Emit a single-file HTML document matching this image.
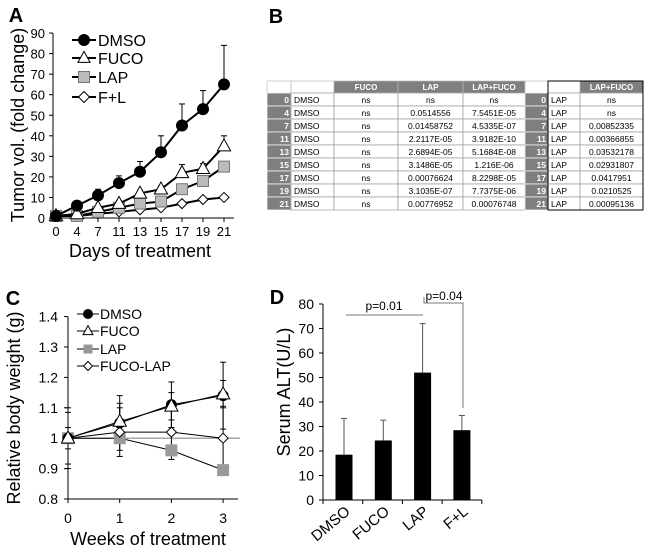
<!DOCTYPE html>
<html><head><meta charset="utf-8"><style>
body{margin:0;background:#fff;width:650px;height:552px;overflow:hidden;font-family:"Liberation Sans",Arial,sans-serif}
svg{position:absolute;left:0;top:0}
text{font-family:"Liberation Sans",Arial,sans-serif}
</style></head><body>
<svg id="s" width="650" height="552" viewBox="0 0 650 552"></svg>
<script>
// Panel A data
const daysA = [0,4,7,11,13,15,17,19,21];
const aDMSO = [1,6,11,17,22.5,32,45,53,65];
const aDMSOerr = [0,1,3,3.5,5,8,10.5,9,19];
const aFUCO = [1,2,5,7,12,14,22,24,35];
const aFUCOerr = [0,0.5,1,1.5,1.5,1.5,4,2.5,5];
const aLAP = [1,1,3,5,7,8,14,18,25];
const aFL = [1,1,2,3,4,5,7,9,10];
const aYTicks = [0,10,20,30,40,50,60,70,80,90];
// Panel B table
const bHeader = ["","","FUCO","LAP","LAP+FUCO","","","LAP+FUCO"];
const bDays = ["0","4","7","11","13","15","17","19","21"];
const bFUCO = ["ns","ns","ns","ns","ns","ns","ns","ns","ns"];
const bLAP = ["ns","0.0514556","0.01458752","2.2117E-05","2.6894E-05","3.1486E-05","0.00076624","3.1035E-07","0.00776952"];
const bLF = ["ns","7.5451E-05","4.5335E-07","3.9182E-10","5.1684E-08","1.216E-06","8.2298E-05","7.7375E-06","0.00076748"];
const bLF2 = ["ns","ns","0.00852335","0.00366855","0.03532178","0.02931807","0.0417951","0.0210525","0.00095136"];
// Panel C data
const weeks = [0,1,2,3];
const cDMSO = [1,1.05,1.11,1.14];
const cDMSOerr = [0.035,0.09,0.075,0.11];
const cFUCO = [1,1.055,1.105,1.145];
const cFUCOerr = [0.085,0.06,0.045,0.045];
const cLAP = [1,1,0.96,0.895];
const cFL = [1,1.02,1.02,1.0];
const cFLerr = [0.1,0.08,0.09,0.105];
const cYTicks = [0.8,0.9,1,1.1,1.2,1.3,1.4];
// Panel D data
const dCats = ["DMSO","FUCO","LAP","F+L"];
const dVals = [18.5,24.3,52,28.5];
const dErr = [14.8,8.3,20,6];
const dYTicks = [0,10,20,30,40,50,60,70,80];

const S=document.getElementById('s');const NS='http://www.w3.org/2000/svg';
function mk(t,a,p,txt){const e=document.createElementNS(NS,t);for(const k in a)e.setAttribute(k,a[k]);if(txt!==undefined)e.textContent=txt;(p||S).appendChild(e);return e;}
function line(x1,y1,x2,y2,st,w,p){return mk('line',{x1,y1,x2,y2,stroke:st||'#000','stroke-width':w||1},p);}
function txt(x,y,s,sz,anchor,p,extra){const a={x,y,'font-size':sz,'text-anchor':anchor||'middle',fill:'#000'};Object.assign(a,extra||{});return mk('text',a,p,s);}
function marker(g,type,x,y,r){
  if(type==='circle')return mk('circle',{cx:x,cy:y,r:r,fill:'#000'},g);
  if(type==='tri')return mk('polygon',{points:`${x},${y-r*1.2} ${x-r*1.1},${y+r*0.8} ${x+r*1.1},${y+r*0.8}`,fill:'#fff',stroke:'#000','stroke-width':1},g);
  if(type==='sq')return mk('rect',{x:x-r,y:y-r,width:2*r,height:2*r,fill:'#bbb',stroke:'#777','stroke-width':1},g);
  if(type==='sqc')return mk('rect',{x:x-r,y:y-r,width:2*r,height:2*r,fill:'#999',stroke:'none'},g);
  if(type==='dia')return mk('polygon',{points:`${x},${y-r} ${x+r},${y} ${x},${y+r} ${x-r},${y}`,fill:'#fff',stroke:'#000','stroke-width':1},g);
}
// Labels
txt(16,22,'A',20,'middle',null,{'font-weight':'bold'});
txt(276,23,'B',20,'middle',null,{'font-weight':'bold'});
txt(13,305,'C',20,'middle',null,{'font-weight':'bold'});
txt(277,304,'D',20,'middle',null,{'font-weight':'bold'});

// ===== Panel A =====
(function(){
const g=mk('g',{});
const x0=56,dx=21,y0=218,py=20.55;
const X=i=>x0+i*dx, Y=v=>y0-v*py/10;
line(53,Y(90),53,y0,'#000',1,g);line(53,y0,234,y0,'#000',1,g);
aYTicks.forEach(t=>{line(49,Y(t),53,Y(t),'#000',1,g);txt(45,Y(t)+5,String(t),13,'end',g);});
daysA.forEach((d,i)=>{line(X(i),y0,X(i),y0+4,'#000',1,g);txt(X(i),236,String(d),13,'middle',g);});
txt(140,257,'Days of treatment',18,'middle',g);
txt(0,0,'Tumor vol. (fold change)',18,'middle',g,{transform:'translate(24,125) rotate(-90)'});
function err(vals,e){vals.forEach((v,i)=>{if(!e[i])return;line(X(i),Y(v),X(i),Y(v+e[i]),'#000',1,g);line(X(i)-3,Y(v+e[i]),X(i)+3,Y(v+e[i]),'#000',1,g);});}
err(aDMSO,aDMSOerr);err(aFUCO,aFUCOerr);
function ser(vals,type,name,r){const sg=mk('g',{},g);
 mk('polyline',{points:vals.map((v,i)=>X(i)+','+Y(v)).join(' '),fill:'none',stroke:'#000','stroke-width':2},sg);
 vals.forEach((v,i)=>marker(sg,type,X(i),Y(v),r));}
ser(aFL,'dia','series-f-l',5);ser(aLAP,'sq','series-lap',5.5);ser(aFUCO,'tri','series-fuco',6);ser(aDMSO,'circle','series-dmso',6);
const lg=mk('g',{},g);
[['DMSO','circle',40],['FUCO','tri',58],['LAP','sq',77],['F+L','dia',97]].forEach(([n,t,y])=>{line(72,y,96,y,'#000',2,lg);marker(lg,t,84,y,t==='circle'?6:5.5);txt(98,y+6,n,16,'start',lg);});
})();

// ===== Panel B table =====
(function(){
const g=mk('g',{});
const cols=[267,291,334,398,463,525,548,580,643];
const top=81,hh=12,rh=13;
bHeader.forEach((h,c)=>{const gray=h!=='';mk('rect',{x:cols[c],y:top,width:cols[c+1]-cols[c],height:hh,fill:gray?'#7f7f7f':'#fff',stroke:'#bbb','stroke-width':0.7},g);
 if(h)txt((cols[c]+cols[c+1])/2,top+9,h,8,'middle',g,{fill:'#fff','font-weight':'bold'});});
bDays.forEach((d,r)=>{const y=top+hh+r*rh;
 const cells=[d,'DMSO',bFUCO[r],bLAP[r],bLF[r],d,'LAP',bLF2[r]];
 cells.forEach((s,c)=>{const num=(c===0||c===5);
  mk('rect',{x:cols[c],y:y,width:cols[c+1]-cols[c],height:rh,fill:num?'#7f7f7f':'#fff',stroke:num?'#fff':'#999','stroke-width':0.7},g);
  if(num)txt(cols[c+1]-2,y+10,s,8.5,'end',g,{fill:'#fff','font-weight':'bold'});
  else if(c===1||c===6)txt(cols[c]+3,y+10,s,8.5,'start',g);
  else txt((cols[c]+cols[c+1])/2,y+10,s,8.5,'middle',g);});});
mk('rect',{x:548,y:top,width:95,height:hh+9*rh,fill:'none',stroke:'#000','stroke-width':1},g);
})();

// ===== Panel C =====
(function(){
const g=mk('g',{});
const X=i=>68+i*51.7, Y=v=>499-(v-0.8)*304;
line(68,Y(1.4),68,499,'#000',1,g);line(68,499,238,499,'#000',1,g);
line(68,Y(1),240,Y(1),'#888',1.2,g);
cYTicks.forEach(t=>{line(64,Y(t),68,Y(t),'#000',1,g);txt(58,Y(t)+5,String(t),14,'end',g);});
weeks.forEach((w,i)=>{line(X(i),499,X(i),503,'#000',1,g);txt(X(i),523,String(w),14,'middle',g);});
txt(148,545,'Weeks of treatment',18,'middle',g);
txt(0,0,'Relative body weight (g)',18,'middle',g,{transform:'translate(20,408) rotate(-90)'});
function err(vals,e){vals.forEach((v,i)=>{[1,-1].forEach(sg=>{line(X(i),Y(v),X(i),Y(v+sg*e[i]),'#000',1,g);line(X(i)-3,Y(v+sg*e[i]),X(i)+3,Y(v+sg*e[i]),'#000',1,g);});});}
err(cDMSO,cDMSOerr);err(cFUCO,cFUCOerr);err(cFL,cFLerr);
function ser(vals,type,name,r){const sg=mk('g',{},g);
 mk('polyline',{points:vals.map((v,i)=>X(i)+','+Y(v)).join(' '),fill:'none',stroke:'#000','stroke-width':1},sg);
 vals.forEach((v,i)=>marker(sg,type,X(i),Y(v),r));}
ser(cLAP,'sqc','series-lap',6);ser(cFL,'dia','series-fuco-lap',5);ser(cDMSO,'circle','series-dmso',5.5);ser(cFUCO,'tri','series-fuco',6);
const lg=mk('g',{},g);
[['DMSO','circle',314],['FUCO','tri',331],['LAP','sqc',349],['FUCO-LAP','dia',366]].forEach(([n,t,y])=>{line(77,y,99,y,'#000',1,lg);marker(lg,t,88,y,t==='circle'?5:4.5);txt(100,y+5,n,14,'start',lg);});
})();

// ===== Panel D =====
(function(){
const g=mk('g',{});
const Y=v=>500-v*2.45, X=i=>344+i*39.3;
line(323,Y(80),323,500,'#000',1,g);line(323,500,482,500,'#000',1,g);
dYTicks.forEach(t=>{line(319,Y(t),323,Y(t),'#000',1,g);txt(314,Y(t)+5,String(t),14,'end',g);});
[0,1,2,3,4].forEach(i=>line(323+i*39.7,500,323+i*39.7,504,'#000',1,g));
txt(0,0,'Serum ALT(U/L)',18,'middle',g,{transform:'translate(290,392) rotate(-90)'});
dCats.forEach((c,i)=>{
 mk('rect',{x:X(i)-8.5,y:Y(dVals[i]),width:17,height:500-Y(dVals[i]),fill:'#000',},g);
 line(X(i),Y(dVals[i]),X(i),Y(dVals[i]+dErr[i]),'#555',1,g);line(X(i)-3,Y(dVals[i]+dErr[i]),X(i)+3,Y(dVals[i]+dErr[i]),'#555',1,g);
 txt(0,0,c,15,'end',g,{transform:`translate(${X(i)+7},${513}) rotate(-40)`});
});
line(346,315,423,315,'#777',1,g);txt(384,310,'p=0.01',12,'middle',g);
mk('polyline',{points:'424,297 424,303 463,303 463,408',fill:'none',stroke:'#777','stroke-width':1},g);
txt(444,300,'p=0.04',12,'middle',g);
})();
</script>
</body></html>
